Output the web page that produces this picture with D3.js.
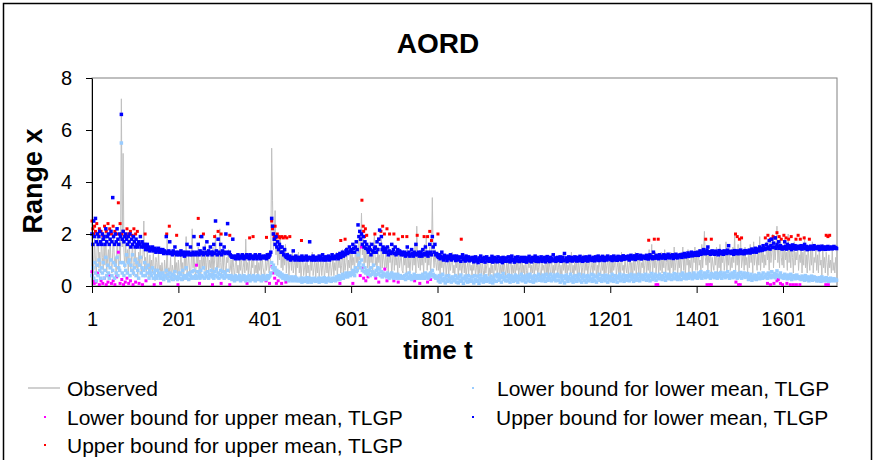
<!DOCTYPE html>
<html>
<head>
<meta charset="utf-8">
<script src="https://cdn.jsdelivr.net/npm/d3@7"></script>
<style>
  body { margin: 0; background: #fff; }
  svg { display: block; }
</style>
</head>
<body>
<svg id="chart" width="874" height="460"></svg>
<script>
// ---- Data ---------------------------------------------------------------
// Dense series are sampled every 2nd trading day (t = 1, 3, 5, ... 1725).
const tStart = 1, tStep = 2, tLast = 1726;

// Observed daily range
const observed = [
  2.9,1.2,0.6,1.8,0.9,0.4,1.5,2.1,0.7,1.3,0.5,1.9,1.1,0.6,1.6,0.8,2.2,0.5,1.0,1.4,
  0.7,1.8,0.9,0.5,1.3,2.0,0.8,1.1,0.4,1.7,1.2,0.6,1.9,0.9,7.2,1.5,5.1,1.3,0.7,1.6,
  0.9,1.4,0.5,1.8,1.0,0.6,1.2,1.6,0.4,0.9,1.5,0.7,1.1,0.3,1.3,0.8,1.7,0.5,1.0,1.2,
  2.5,0.6,1.1,0.4,1.4,0.8,0.3,1.2,0.6,1.0,0.5,1.3,0.7,0.2,1.1,0.9,0.4,1.3,0.6,0.8,
  0.3,0.9,0.5,0.2,1.0,0.6,0.4,1.8,0.3,0.7,0.5,1.1,0.2,0.8,0.6,0.3,1.2,0.5,0.9,0.4,
  1.0,0.3,0.7,1.3,0.5,0.9,0.2,1.1,0.6,1.9,0.4,0.8,1.2,0.5,0.3,1.0,2.2,0.7,1.3,0.6,
  0.4,1.2,0.8,1.5,0.5,1.0,0.3,1.4,0.7,1.1,0.6,1.6,0.4,0.9,1.3,0.5,1.0,0.7,1.2,0.4,
  1.5,0.6,1.0,2.0,0.8,0.5,1.3,0.7,2.2,0.9,0.4,1.2,0.6,1.4,0.8,0.3,1.1,0.9,1.4,0.5,
  0.6,1.0,0.4,1.2,0.7,0.3,0.9,1.1,0.5,0.8,0.3,1.0,0.6,1.2,0.4,0.7,1.0,0.5,1.8,0.6,
  0.9,0.4,1.1,0.6,0.3,1.0,0.7,1.2,0.4,0.8,0.5,1.1,0.3,0.9,0.6,1.0,0.4,1.2,0.7,0.5,
  0.4,1.1,0.6,0.9,1.3,0.5,0.8,1.2,5.3,3.3,1.4,2.0,2.9,1.2,1.8,0.8,1.5,1.0,1.9,0.7,
  1.4,0.6,1.2,0.8,1.6,0.5,1.0,1.3,0.4,0.9,1.1,0.6,1.4,0.5,0.8,1.2,0.3,1.0,0.7,1.3,
  0.5,1.0,0.3,0.8,1.2,0.4,0.7,0.9,0.3,1.1,0.5,0.8,0.2,1.0,0.6,1.3,0.4,0.7,1.0,0.3,
  0.9,0.5,1.2,0.3,0.7,1.0,0.4,0.8,1.1,0.3,0.6,1.2,0.5,0.9,0.3,0.8,1.0,0.4,0.7,1.1,
  0.4,0.9,0.6,1.3,0.3,1.0,0.7,1.2,0.5,0.8,1.4,0.4,1.1,0.6,0.9,1.5,0.5,1.0,0.7,1.3,
  0.6,1.4,0.8,1.1,0.5,1.6,0.9,1.3,0.6,1.8,1.0,1.5,2.8,1.2,1.8,0.8,1.4,0.9,1.6,0.7,
  1.2,0.6,1.7,0.9,1.3,0.5,1.4,2.0,0.8,1.1,0.6,1.5,0.9,1.2,0.5,1.8,0.7,1.3,1.0,0.6,
  1.4,0.7,1.1,0.5,1.5,0.9,1.2,0.4,1.0,1.6,0.6,1.3,0.8,1.1,0.5,1.4,0.7,1.0,1.2,0.6,
  0.5,1.3,0.8,1.1,0.4,1.5,0.7,1.2,0.5,1.0,1.4,0.6,1.2,0.8,1.6,0.5,2.3,1.0,0.7,1.3,
  0.6,1.4,0.8,1.1,0.5,1.6,0.9,1.9,0.6,1.2,0.8,1.5,0.5,1.1,3.4,1.2,0.7,1.4,0.9,0.6,
  1.2,0.6,1.0,0.4,1.3,0.7,1.1,0.5,0.9,1.2,0.4,0.8,1.0,0.3,1.1,0.6,0.9,1.3,0.5,0.8,
  0.4,1.0,0.7,1.2,0.3,0.9,0.6,1.1,0.4,0.8,1.0,0.5,1.2,0.3,0.7,0.9,0.4,1.1,0.6,0.8,
  0.3,0.9,0.6,1.0,0.4,0.7,1.1,0.3,0.8,0.5,1.0,0.4,0.9,0.6,0.2,1.0,0.5,0.8,1.1,0.4,
  0.7,0.3,1.0,0.5,0.8,0.2,0.9,0.6,1.1,0.4,0.7,1.0,0.3,0.8,0.5,0.9,0.3,1.1,0.6,0.4,
  0.9,0.5,1.0,0.3,0.7,1.2,0.4,0.8,0.5,1.0,0.3,0.9,0.6,1.1,0.4,0.7,0.9,0.3,1.0,0.5,
  0.8,0.4,1.1,0.6,0.3,0.9,0.7,1.2,0.4,0.8,0.5,1.0,0.3,0.9,0.6,1.1,0.4,0.7,1.0,0.5,
  0.3,1.0,0.6,0.8,0.4,1.1,0.5,0.9,0.2,1.0,0.7,0.4,1.2,0.5,0.8,0.3,0.9,0.6,1.1,0.4,
  0.7,1.0,0.4,0.8,0.3,1.2,0.6,0.9,0.5,1.1,0.3,0.8,0.6,1.0,0.4,1.3,0.5,0.8,0.3,1.0,
  0.6,0.9,0.3,1.1,0.5,0.8,1.0,0.4,0.7,1.2,0.3,0.9,0.6,1.0,0.4,0.8,1.1,0.5,0.7,0.9,
  0.4,1.0,0.6,1.2,0.3,0.8,0.5,1.1,0.7,0.4,1.0,0.6,0.9,0.3,1.2,0.5,0.8,1.0,0.4,1.1,
  0.5,0.9,0.3,1.1,0.6,0.8,1.2,0.4,0.7,1.0,0.3,0.9,0.5,1.3,0.6,0.8,0.4,1.1,0.7,0.5,
  1.0,0.4,0.8,1.2,0.5,0.9,0.3,1.1,0.6,1.3,0.4,0.8,1.0,0.5,1.2,0.3,0.9,0.7,1.1,0.5,
  0.8,1.2,0.4,1.0,0.6,1.4,0.5,0.9,1.6,0.4,1.1,0.7,1.3,0.5,0.9,1.2,0.4,1.0,0.6,1.3,
  0.5,1.1,0.7,1.4,0.4,0.9,1.2,0.6,1.0,0.3,1.3,0.7,1.0,0.5,1.5,0.6,0.9,1.2,0.4,1.0,
  0.7,1.3,0.5,1.0,1.5,0.6,1.1,0.4,1.2,0.8,1.4,0.5,1.0,0.7,1.3,0.4,1.1,0.9,1.5,0.6,
  1.2,0.6,1.4,0.8,1.0,0.5,1.6,0.7,1.3,2.1,1.1,0.8,1.5,0.6,1.2,0.9,1.4,0.5,1.1,0.8,
  0.6,1.3,0.8,1.5,0.5,1.1,0.7,1.6,0.4,1.2,0.9,1.4,0.6,1.0,1.7,0.5,1.2,0.8,1.4,0.6,
  1.1,0.7,1.5,0.9,2.0,0.6,1.3,0.8,1.6,0.5,1.2,1.8,0.7,1.0,1.4,0.6,1.5,0.8,1.1,0.5,
  1.3,0.7,1.6,0.9,1.2,0.5,1.7,0.8,1.4,1.0,0.6,1.5,0.8,1.9,0.6,1.3,0.9,1.6,0.7,1.2,
  0.8,1.7,1.0,1.4,0.6,1.8,0.9,1.3,2.0,0.7,1.5,1.0,1.6,2.3,0.9,1.4,0.7,1.9,1.1,0.8,
  1.5,0.7,1.8,1.0,1.3,0.6,2.0,0.9,1.4,0.7,1.6,1.1,0.5,1.7,0.8,1.3,1.0,1.5,0.6,1.2,
  0.9,1.6,0.5,1.3,0.8,1.9,0.7,1.2,0.5,1.5,1.0,0.6,1.4,0.8,1.7,0.5,1.1,0.9,1.4,0.6,
  1.2,0.5,1.5,0.8,1.0,0.4,1.6,0.7,1.1,0.5,1.3,0.9,0.4,1.2,0.7,1.0,0.5,1.4,0.6,0.9,
  0.5,1.1,0.7
];

// Upper bound for lower mean, TLGP
const upperLower = [
  2.0,1.6,2.5,1.9,2.6,1.7,2.0,1.6,1.9,2.1,1.7,1.6,2.0,1.8,1.9,1.6,2.2,1.7,1.9,2.0,
  1.6,1.8,2.1,1.7,3.4,1.9,1.6,2.0,1.7,2.2,1.8,1.6,2.0,1.9,6.6,1.8,2.1,1.7,1.9,2.0,
  1.8,1.6,1.9,1.7,2.0,1.5,1.8,1.6,1.9,1.7,1.5,1.8,1.6,1.5,1.7,1.6,1.9,1.5,1.7,1.6,
  1.5,1.6,1.4,1.5,1.6,1.4,1.5,1.35,1.45,1.4,1.5,1.35,1.4,1.45,1.3,1.4,1.35,1.45,1.3,1.4,
  1.35,1.3,1.4,1.25,1.35,1.3,1.9,1.25,1.3,1.35,1.7,1.25,1.3,1.2,1.35,1.25,1.5,1.3,1.2,1.25,
  1.3,1.2,1.25,1.35,1.2,1.3,1.25,1.15,1.3,1.2,1.6,1.25,1.3,1.2,1.5,1.25,1.2,1.3,1.9,1.25,
  1.2,1.3,1.25,1.6,1.2,1.35,1.25,1.9,1.3,1.2,1.45,1.25,1.3,1.7,1.2,1.35,1.25,1.5,1.3,1.2,
  1.3,1.6,1.25,2.5,1.35,1.2,1.8,1.3,1.25,1.6,1.2,1.35,1.3,1.5,1.25,2.0,1.3,2.4,1.25,1.3,
  1.2,1.15,1.1,1.8,1.15,1.1,1.05,1.15,1.1,1.2,1.05,1.1,1.15,1.08,1.2,1.1,1.05,1.15,1.1,1.2,
  1.1,1.15,1.05,1.2,1.1,1.08,1.15,1.05,1.1,1.2,1.12,1.05,1.15,1.1,1.2,1.05,1.12,1.1,1.15,1.08,
  1.1,1.15,1.05,1.2,1.1,1.15,1.2,1.3,2.6,2.3,2.0,1.8,1.6,1.9,1.5,1.7,1.4,1.6,1.5,1.3,
  1.5,1.3,1.2,1.4,1.15,1.1,1.2,1.05,1.1,1.15,1.0,1.1,1.05,1.35,1.1,1.0,1.15,1.05,1.1,1.0,
  1.05,1.1,1.0,1.15,1.05,1.0,1.1,1.05,1.15,1.0,1.1,1.05,1.7,1.1,1.0,1.05,1.15,1.0,1.1,1.05,
  1.0,1.1,1.05,1.15,1.0,1.1,1.05,1.2,1.0,1.08,1.12,1.0,1.1,1.05,1.15,1.0,1.1,1.05,1.2,1.1,
  1.1,1.05,1.15,1.1,1.2,1.05,1.15,1.25,1.1,1.2,1.3,1.15,1.25,1.2,1.35,1.4,1.25,1.3,1.5,1.35,
  1.4,1.3,1.6,1.45,1.3,1.5,1.7,1.4,2.35,1.9,2.1,1.8,2.0,1.6,1.9,1.5,1.7,1.45,1.6,1.4,
  1.3,1.5,1.4,1.2,1.6,1.35,1.3,1.45,1.5,1.3,1.7,1.4,1.8,2.15,1.6,1.9,1.4,1.5,1.3,1.45,
  1.4,1.3,1.5,1.2,1.35,1.3,1.25,1.6,1.3,1.4,1.25,1.5,1.2,1.3,1.4,1.25,1.35,1.3,1.2,1.3,
  1.25,1.2,1.3,1.15,1.25,1.5,1.2,1.3,1.15,1.2,1.4,1.25,1.15,1.3,1.2,1.6,1.25,1.2,1.3,1.15,
  1.2,1.3,1.15,1.4,1.2,1.25,1.5,1.2,1.3,1.15,1.25,1.6,1.3,1.2,1.9,1.5,1.3,1.6,1.2,1.25,
  1.15,1.1,1.2,1.05,1.15,1.3,1.1,1.0,1.18,1.08,1.12,0.98,1.15,1.05,1.1,1.2,1.0,1.12,1.05,1.15,
  1.1,0.98,1.15,1.05,1.0,1.12,1.08,0.95,1.1,1.2,1.02,1.08,0.96,1.15,1.05,1.0,1.12,0.97,1.08,1.02,
  1.0,1.1,0.93,1.05,1.12,0.96,1.02,0.9,1.08,1.0,1.15,0.95,1.05,0.98,1.1,0.92,1.04,1.12,0.97,1.05,
  0.95,1.06,1.0,1.14,0.92,1.02,1.1,0.96,1.05,0.93,1.12,1.0,0.95,1.08,1.02,0.9,1.1,0.98,1.05,0.95,
  1.08,0.96,1.12,1.0,0.93,1.05,1.15,0.98,1.02,0.92,1.1,1.04,0.96,1.12,1.0,0.94,1.06,1.1,0.97,1.03,
  0.95,1.1,1.02,0.92,1.08,1.0,1.14,0.96,1.05,0.93,1.1,0.99,1.05,1.15,0.95,1.02,1.1,0.94,1.06,1.0,
  1.12,0.95,1.04,1.0,1.1,0.93,1.06,1.13,0.98,1.02,0.94,1.1,1.05,0.97,1.2,1.0,1.08,0.95,1.04,1.1,
  0.98,1.06,1.12,0.95,1.02,1.1,0.97,1.25,1.0,1.08,0.94,1.05,1.12,0.98,1.04,1.1,0.96,1.06,1.0,1.12,
  1.02,0.96,1.1,1.04,0.97,1.14,1.0,1.06,0.95,1.1,1.03,0.98,1.12,1.05,0.96,1.08,1.14,1.0,1.05,0.98,
  1.1,1.02,0.97,1.12,1.05,1.0,1.15,0.98,1.06,1.1,1.0,1.14,1.04,0.98,1.1,1.06,1.0,1.15,1.05,1.08,
  1.02,1.12,0.98,1.06,1.15,1.0,1.1,1.05,0.99,1.14,1.06,1.02,1.12,1.0,1.08,1.16,1.03,1.1,1.06,1.13,
  1.05,1.15,1.0,1.1,1.18,1.04,1.12,1.06,1.16,1.02,1.1,1.2,1.06,1.13,1.08,1.18,1.04,1.12,1.15,1.08,
  1.12,1.06,1.18,1.1,1.04,1.15,1.2,1.08,1.14,1.05,1.3,1.12,1.07,1.18,1.1,1.15,1.05,1.2,1.12,1.08,
  1.15,1.08,1.2,1.12,1.06,1.18,1.1,1.22,1.14,1.08,1.17,1.12,1.2,1.06,1.15,1.1,1.22,1.14,1.08,1.18,
  1.12,1.2,1.15,1.1,1.22,1.16,1.25,1.12,1.2,1.18,1.27,1.14,1.22,1.18,1.3,1.16,1.24,1.2,1.28,1.18,
  1.22,1.3,1.18,1.26,1.35,1.22,1.3,1.25,1.4,1.32,1.24,1.3,1.38,1.5,1.26,1.32,1.22,1.28,1.35,1.24,
  1.3,1.22,1.34,1.26,1.3,1.2,1.36,1.28,1.24,1.33,1.27,1.22,1.35,1.28,1.3,1.25,1.38,1.55,1.28,1.32,
  1.25,1.34,1.28,1.22,1.36,1.3,1.26,1.35,1.24,1.32,1.28,1.38,1.25,1.33,1.3,1.24,1.36,1.3,1.27,1.35,
  1.3,1.38,1.27,1.35,1.42,1.3,1.37,1.33,1.45,1.3,1.4,1.35,1.42,1.5,1.36,1.44,1.38,1.55,1.4,1.46,
  1.42,1.6,1.45,1.5,1.75,1.42,1.55,1.8,1.48,1.65,1.5,1.85,1.45,1.6,1.52,1.7,1.45,1.55,1.48,1.42,
  1.5,1.45,1.7,1.52,1.42,1.6,1.48,1.55,1.45,1.52,1.4,1.58,1.48,1.45,1.55,1.42,1.5,1.46,1.53,1.44,
  1.48,1.55,1.42,1.5,1.46,1.6,1.44,1.52,1.4,1.5,1.47,1.42,1.53,1.45,1.5,1.42,1.55,1.47,1.44,1.5,
  1.45,1.52,1.4,1.48,1.44,1.53,1.42,1.5,1.46,1.41,1.5,1.45,1.52,1.42,1.48,1.45,1.5,1.43,1.47,1.52,
  1.45,1.48,1.44
];

// Lower bound for lower mean, TLGP
const lowerLower = [
  0.4,0.7,0.3,0.9,0.5,0.2,0.8,0.4,1.0,0.6,0.3,0.7,0.5,0.9,0.3,0.6,1.1,0.4,0.8,0.5,
  0.3,0.7,1.0,0.4,0.6,0.9,0.3,0.8,0.5,1.1,0.4,0.7,0.6,0.9,5.5,0.5,0.9,0.4,0.8,0.6,
  1.2,0.5,0.9,1.0,0.4,0.8,0.6,1.2,0.5,0.7,1.0,0.4,0.9,0.6,0.3,0.8,1.1,0.5,0.7,0.4,
  0.6,0.9,0.4,0.7,0.5,0.8,0.3,0.6,0.5,0.4,0.7,0.3,0.5,0.6,0.4,0.3,0.6,0.4,0.5,0.3,
  0.4,0.3,0.5,0.25,0.4,0.35,0.6,0.3,0.45,0.2,0.5,0.35,0.3,0.45,0.25,0.4,0.55,0.3,0.35,0.25,
  0.35,0.5,0.3,0.45,0.25,0.6,0.35,0.4,0.3,0.7,0.35,0.45,0.25,0.5,0.4,0.3,0.55,0.35,0.6,0.3,
  0.4,0.3,0.55,0.35,0.45,0.3,0.6,0.4,0.35,0.7,0.3,0.5,0.4,0.35,0.55,0.3,0.45,0.4,0.6,0.35,
  0.45,0.3,0.55,0.4,0.65,0.35,0.5,0.3,0.45,0.6,0.35,0.4,0.55,0.3,0.5,0.4,0.35,0.6,0.4,0.3,
  0.3,0.4,0.25,0.35,0.3,0.2,0.4,0.3,0.25,0.35,0.3,0.4,0.2,0.3,0.35,0.25,0.4,0.3,0.2,0.35,
  0.3,0.25,0.4,0.2,0.35,0.3,0.25,0.4,0.3,0.2,0.35,0.28,0.4,0.25,0.3,0.35,0.2,0.3,0.4,0.25,
  0.3,0.35,0.25,0.4,0.3,0.35,0.4,0.5,0.9,0.7,0.8,0.6,0.7,0.5,0.6,0.45,0.55,0.4,0.5,0.35,
  0.45,0.3,0.4,0.35,0.25,0.4,0.3,0.35,0.2,0.3,0.25,0.35,0.2,0.3,0.25,0.35,0.2,0.3,0.25,0.2,
  0.25,0.2,0.3,0.15,0.25,0.3,0.18,0.25,0.2,0.32,0.15,0.25,0.3,0.2,0.15,0.28,0.2,0.3,0.22,0.18,
  0.25,0.2,0.3,0.15,0.28,0.22,0.3,0.18,0.25,0.32,0.2,0.15,0.28,0.22,0.3,0.2,0.25,0.18,0.3,0.22,
  0.25,0.3,0.2,0.35,0.25,0.3,0.4,0.25,0.35,0.3,0.45,0.3,0.4,0.35,0.5,0.4,0.35,0.45,0.5,0.4,
  0.5,0.45,0.6,0.5,0.4,0.7,0.55,0.6,1.2,0.8,0.9,0.7,1.0,0.6,0.8,0.55,0.7,0.5,0.6,0.45,
  0.5,0.6,0.4,0.7,0.45,0.55,0.8,0.5,0.4,0.6,0.45,0.7,0.5,0.65,0.4,0.55,0.35,0.5,0.45,0.4,
  0.45,0.35,0.5,0.4,0.3,0.45,0.35,0.5,0.4,0.3,0.45,0.35,0.4,0.3,0.45,0.35,0.3,0.4,0.35,0.3,
  0.35,0.3,0.4,0.25,0.45,0.3,0.35,0.5,0.3,0.4,0.25,0.35,0.3,0.45,0.35,0.4,0.3,0.35,0.4,0.3,
  0.35,0.4,0.3,0.45,0.35,0.3,0.5,0.35,0.4,0.3,0.45,0.35,0.5,0.4,0.6,0.45,0.35,0.4,0.3,0.35,
  0.3,0.2,0.4,0.15,0.35,0.25,0.45,0.2,0.3,0.12,0.38,0.25,0.18,0.4,0.22,0.3,0.15,0.35,0.28,0.2,
  0.25,0.4,0.15,0.3,0.12,0.35,0.22,0.42,0.18,0.3,0.1,0.28,0.38,0.2,0.32,0.15,0.4,0.25,0.18,0.35,
  0.2,0.35,0.12,0.4,0.25,0.18,0.38,0.22,0.1,0.3,0.42,0.2,0.28,0.15,0.35,0.25,0.4,0.18,0.3,0.22,
  0.3,0.15,0.38,0.25,0.12,0.32,0.2,0.42,0.18,0.35,0.45,0.22,0.3,0.4,0.15,0.33,0.48,0.25,0.35,0.2,
  0.35,0.2,0.42,0.28,0.15,0.4,0.25,0.35,0.18,0.3,0.42,0.22,0.32,0.15,0.38,0.25,0.3,0.45,0.2,0.35,
  0.25,0.38,0.15,0.3,0.42,0.2,0.33,0.45,0.18,0.35,0.28,0.15,0.4,0.25,0.2,0.38,0.3,0.45,0.22,0.35,
  0.3,0.2,0.42,0.25,0.35,0.18,0.45,0.3,0.22,0.38,0.28,0.45,0.2,0.35,0.25,0.42,0.3,0.2,0.38,0.45,
  0.22,0.35,0.15,0.4,0.28,0.2,0.38,0.12,0.3,0.42,0.25,0.18,0.35,0.28,0.45,0.2,0.32,0.15,0.38,0.25,
  0.4,0.18,0.32,0.25,0.45,0.2,0.35,0.15,0.3,0.42,0.22,0.38,0.15,0.28,0.4,0.2,0.35,0.25,0.45,0.18,
  0.3,0.42,0.2,0.35,0.15,0.38,0.28,0.45,0.22,0.3,0.18,0.4,0.25,0.35,0.2,0.42,0.3,0.15,0.38,0.25,
  0.35,0.2,0.45,0.28,0.18,0.4,0.25,0.32,0.15,0.38,0.3,0.45,0.2,0.35,0.25,0.42,0.18,0.3,0.4,0.22,
  0.28,0.4,0.2,0.35,0.45,0.25,0.32,0.18,0.42,0.3,0.22,0.38,0.28,0.45,0.2,0.35,0.3,0.42,0.25,0.35,
  0.3,0.45,0.22,0.38,0.28,0.42,0.2,0.35,0.48,0.25,0.38,0.3,0.45,0.22,0.35,0.4,0.28,0.45,0.3,0.38,
  0.25,0.4,0.32,0.48,0.22,0.38,0.3,0.45,0.28,0.35,0.42,0.25,0.4,0.3,0.48,0.28,0.38,0.45,0.25,0.35,
  0.3,0.45,0.25,0.4,0.5,0.3,0.42,0.35,0.28,0.45,0.38,0.3,0.48,0.35,0.42,0.28,0.4,0.5,0.32,0.38,
  0.42,0.3,0.5,0.35,0.45,0.55,0.3,0.42,0.38,0.5,0.32,0.45,0.4,0.55,0.35,0.42,0.3,0.48,0.4,0.35,
  0.45,0.32,0.5,0.38,0.3,0.48,0.4,0.35,0.52,0.3,0.45,0.38,0.5,0.32,0.42,0.36,0.55,0.4,0.3,0.45,
  0.38,0.5,0.32,0.45,0.55,0.35,0.42,0.3,0.48,0.4,0.35,0.52,0.3,0.45,0.38,0.5,0.33,0.42,0.36,0.48,
  0.25,0.38,0.3,0.45,0.22,0.35,0.28,0.42,0.32,0.25,0.4,0.3,0.48,0.28,0.35,0.42,0.3,0.5,0.32,0.38,
  0.35,0.45,0.3,0.5,0.38,0.42,0.32,0.55,0.4,0.35,0.48,0.32,0.45,0.58,0.38,0.42,0.35,0.5,0.4,0.32,
  0.38,0.3,0.45,0.32,0.4,0.28,0.42,0.35,0.3,0.45,0.25,0.38,0.32,0.4,0.28,0.35,0.42,0.3,0.36,0.28,
  0.32,0.25,0.38,0.28,0.35,0.22,0.4,0.3,0.25,0.35,0.2,0.32,0.26,0.38,0.22,0.3,0.35,0.25,0.32,0.2,
  0.28,0.2,0.32,0.25,0.18,0.35,0.22,0.3,0.2,0.26,0.32,0.2,0.28,0.18,0.25,0.3,0.2,0.26,0.22,0.28,
  0.2,0.25,0.22
];

// Upper-mean regime bounds only exist on some days: [t, value]
const upperUpper = [
  [1,2.5],[3,2.2],[5,2.0],[7,2.3],[9,2.1],[12,2.4],[15,2.0],[18,2.2],[22,2.1],[26,1.95],
  [30,2.3],[34,2.1],[38,2.4],[42,2.2],[46,2.0],[50,2.3],[54,2.1],[58,2.0],[62,3.2],[66,2.4],
  [70,2.0],[74,2.1],[78,1.9],[82,2.2],[86,2.0],[90,2.1],[94,1.95],[98,2.2],[102,2.0],[106,2.1],
  [124,2.0],[174,2.0],[180,2.3],[197,1.95],[247,2.6],[252,1.9],[259,2.0],[285,1.9],[293,2.1],[300,2.0],
  [320,1.95],[366,1.85],[374,1.9],[405,1.87],[417,2.5],[419,2.2],[421,2.0],[423,1.9],[425,2.3],[427,1.85],
  [430,2.0],[433,1.9],[436,1.85],[440,1.9],[444,1.85],[448,1.9],[452,1.85],[459,1.9],[486,1.75],[577,1.75],
  [587,1.8],[625,2.0],[626,3.3],[629,2.3],[630,2.1],[632,1.9],[634,2.2],[637,1.95],[656,2.0],[665,1.8],
  [670,2.1],[674,2.3],[678,2.0],[684,2.2],[690,2.0],[700,2.0],[710,1.8],[720,1.9],[730,1.9],[754,1.95],
  [770,1.9],[778,1.9],[783,2.1],[787,1.75],[802,2.0],[856,1.8],[1290,1.76],[1303,1.8],[1312,1.8],[1422,1.8],
  [1435,1.8],[1491,2.0],[1495,1.9],[1500,1.8],[1505,1.85],[1560,1.85],[1566,1.95],[1572,1.8],[1578,1.9],[1583,1.85],
  [1587,2.05],[1592,1.9],[1597,1.8],[1603,1.95],[1608,1.85],[1614,1.8],[1620,1.9],[1631,1.8],[1636,1.95],[1641,1.8],
  [1650,1.85],[1662,1.8],[1701,1.95],[1705,1.9],[1709,1.95]
];

const lowerUpper = [
  [1,0.55],[2,0.4],[4,0.2],[6,0.1],[10,0.15],[14,0.5],[18,0.05],[22,0.2],[26,0.1],[30,0.3],
  [34,0.05],[38,0.15],[42,0.4],[46,0.1],[50,0.2],[54,0.05],[58,0.35],[62,1.3],[66,0.1],[70,0.25],
  [74,0.05],[78,0.15],[82,0.3],[86,0.1],[90,0.2],[96,0.05],[102,0.15],[110,0.1],[118,0.05],[126,0.2],
  [145,0.05],[160,0.1],[200,0.05],[243,0.8],[250,0.1],[280,0.05],[300,0.1],[320,0.05],[360,0.1],[404,0.2],
  [412,0.1],[418,0.75],[420,0.5],[424,0.3],[428,0.1],[432,0.2],[440,0.1],[450,0.15],[575,0.1],[605,0.1],
  [622,0.4],[625,1.5],[627,0.7],[630,0.3],[635,0.2],[640,0.35],[658,0.3],[665,0.15],[672,0.4],[679,0.65],
  [684,0.2],[700,0.2],[710,0.15],[748,0.2],[760,0.1],[770,0.3],[778,0.15],[785,0.25],[802,0.3],[1307,0.05],
  [1311,0.05],[1425,0.05],[1431,0.05],[1435,0.05],[1492,0.15],[1498,0.05],[1502,0.05],[1565,0.1],[1572,0.05],[1580,0.1],
  [1587,0.2],[1590,0.25],[1595,0.1],[1600,0.05],[1610,0.1],[1618,0.05],[1625,0.05],[1632,0.05],[1640,0.05],[1700,0.05],
  [1706,0.05]
];

const xTicks = [1, 201, 401, 601, 801, 1001, 1201, 1401, 1601];
const yTicks = [0, 2, 4, 6, 8];

const colors = {
  observed: "#c0c0c0",
  lowerUpper: "#ff00ff",
  upperUpper: "#ff0000",
  lowerLower: "#99ccff",
  upperLower: "#0000ff"
};

// ---- Layout -------------------------------------------------------------
const FONT = "Arial, 'Liberation Sans', sans-serif";
const svg = d3.select("#chart");

const x = d3.scaleLinear().domain([tStart, tLast]).range([92, 837]);
const y = d3.scaleLinear().domain([0, 8]).range([286, 78]);

const dense = arr => arr.map((v, i) => [tStart + i * tStep, v]);

// Chart frame
svg.append("rect")
  .attr("x", 3.5).attr("y", 3.5).attr("width", 868).attr("height", 470)
  .attr("fill", "#fff").attr("stroke", "#000").attr("stroke-width", 1.5);

// Title
svg.append("text")
  .attr("x", 438).attr("y", 53)
  .attr("text-anchor", "middle")
  .attr("font-family", FONT).attr("font-size", 28).attr("font-weight", "bold")
  .text("AORD");

// Plot area outline (top and right sides)
svg.append("rect")
  .attr("x", x(tStart)).attr("y", y(8))
  .attr("width", x(tLast) - x(tStart)).attr("height", y(0) - y(8))
  .attr("fill", "none").attr("stroke", "#808080").attr("stroke-width", 1);

// Observed range as a thin grey line
const line = d3.line().x(d => x(d[0])).y(d => y(d[1]));
svg.append("path")
  .datum(dense(observed))
  .attr("d", line)
  .attr("fill", "none")
  .attr("stroke", colors.observed)
  .attr("stroke-width", 1);

// Marker series (small squares)
function markers(data, color, size) {
  svg.append("g").selectAll("rect")
    .data(data)
    .join("rect")
    .attr("x", d => x(d[0]) - size / 2)
    .attr("y", d => y(d[1]) - size / 2)
    .attr("width", size).attr("height", size)
    .attr("fill", color);
}
markers(lowerUpper, colors.lowerUpper, 3);
markers(upperUpper, colors.upperUpper, 3);
markers(dense(lowerLower), colors.lowerLower, 3.5);
markers(dense(upperLower), colors.upperLower, 3.5);

// Axes
const yAxis = svg.append("g")
  .attr("transform", `translate(${x(tStart)},0)`)
  .call(d3.axisLeft(y).tickValues(yTicks).tickFormat(d3.format("d"))
    .tickSize(6).tickSizeOuter(0).tickPadding(14));
const xAxis = svg.append("g")
  .attr("transform", `translate(0,${y(0)})`)
  .call(d3.axisBottom(x).tickValues(xTicks).tickFormat(d3.format("d"))
    .tickSize(7).tickSizeOuter(0).tickPadding(19));
[yAxis, xAxis].forEach(g => {
  g.selectAll("path,line").attr("stroke", "#000").attr("stroke-width", 1);
  g.selectAll("text")
    .attr("font-family", FONT).attr("font-size", 20).attr("fill", "#000");
});

// Axis titles
svg.append("text")
  .attr("transform", "translate(42,181) rotate(-90)")
  .attr("text-anchor", "middle")
  .attr("font-family", FONT).attr("font-size", 27).attr("font-weight", "bold")
  .text("Range x");
svg.append("text")
  .attr("x", 438).attr("y", 359)
  .attr("text-anchor", "middle")
  .attr("font-family", FONT).attr("font-size", 26).attr("font-weight", "bold")
  .text("time t");

// Legend
const legend = svg.append("g")
  .attr("font-family", FONT).attr("font-size", 21);
legend.append("line")
  .attr("x1", 28).attr("x2", 60).attr("y1", 388).attr("y2", 388)
  .attr("stroke", colors.observed).attr("stroke-width", 1.5);
legend.append("text").attr("x", 67).attr("y", 395.5).text("Observed");

const legendItems = [
  { label: "Lower bound for upper mean, TLGP", color: colors.lowerUpper, mx: 45, tx: 67, cy: 417 },
  { label: "Upper bound for upper mean, TLGP", color: colors.upperUpper, mx: 45, tx: 67, cy: 445 },
  { label: "Lower bound for lower mean, TLGP", color: colors.lowerLower, mx: 473, tx: 497, cy: 388 },
  { label: "Upper bound for lower mean, TLGP", color: colors.upperLower, mx: 473, tx: 496, cy: 417 }
];
legendItems.forEach(d => {
  legend.append("rect")
    .attr("x", d.mx - 1).attr("y", d.cy - 1).attr("width", 2).attr("height", 2)
    .attr("fill", d.color);
  legend.append("text").attr("x", d.tx).attr("y", d.cy + 7.5).text(d.label);
});
</script>
</body>
</html>
